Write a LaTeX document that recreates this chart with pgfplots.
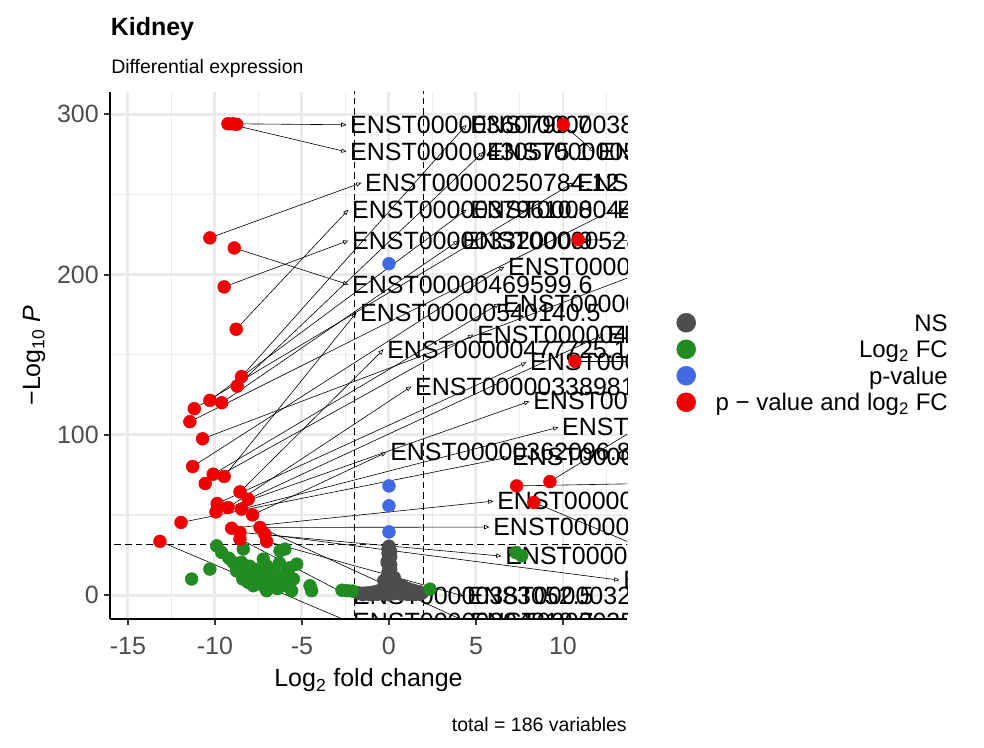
\documentclass[border=0pt]{standalone}
\usepackage{fontspec}
\setmainfont{Liberation Sans}
\usepackage{pgfplots}
\pgfplotsset{compat=1.18}
\usetikzlibrary{arrows.meta}
\definecolor{ns}{HTML}{4D4D4D}
\definecolor{fc}{HTML}{228B22}
\definecolor{pv}{HTML}{4169E1}
\definecolor{fcp}{HTML}{EE0000}
\definecolor{gridc}{HTML}{EBEBEB}
\definecolor{tickc}{HTML}{333333}
\definecolor{ticklab}{HTML}{4D4D4D}
\newcommand{\lab}[5]{\draw[-{Triangle[open,length=4pt,width=3.2pt]}, line width=0.45pt] (axis cs:#1,#2) -- (axis cs:{#3-0.2},#4); \node[anchor=west, inner sep=0pt, font=\fontsize{18.75}{19}\selectfont] at (axis cs:#3,#4) {#5};}
\begin{document}
\begin{tikzpicture}
\path[use as bounding box] (0,0) rectangle (738pt,561pt);
\begin{axis}[
 at={(82.5pt,96.75pt)}, anchor=south west,
 scale only axis, width=387.75pt, height=395.25pt,
 xmin=-16.03, xmax=13.68, ymin=-14.95, ymax=313.95,
 axis x line*=bottom, axis y line*=left,
 axis line style={black, line width=1.6pt},
 xtick={-15,-10,-5,0,5,10}, xticklabels={-15,-10,-5,0,5,10},
 ytick={0,100,200,300}, yticklabels={0,100,200,300},
 minor xtick={-12.5,-7.5,-2.5,2.5,7.5,12.5}, minor ytick={50,150,250},
 grid=both, major grid style={gridc, line width=2.2pt}, minor grid style={gridc, line width=1pt},
 tick align=outside, major tick length=4.5pt, minor tick length=0pt,
 tick style={tickc, line width=1.6pt},
 ticklabel style={font=\fontsize{18.75}{20}\selectfont, text=ticklab},
 xticklabel style={anchor=base, yshift=-22.2pt},
 yticklabel style={anchor=east, inner sep=0pt, xshift=-3.75pt},
 clip=true,
 legend style={at={(axis description cs:1.6209,0.4867)}, anchor=east, draw=none, fill=none, inner sep=0pt, row sep=3.075pt, column sep=14.75pt, font=\fontsize{18}{20}\selectfont, nodes={inner sep=0pt, text height=14.8pt, text depth=2pt}},
 legend cell align=right,
]
\addlegendimage{ns, legend image code/.code={\fill (0pt,0pt) circle (7.1pt);}}
\addlegendentry{NS}
\addlegendimage{fc, legend image code/.code={\fill (0pt,0pt) circle (7.1pt);}}
\addlegendentry{Log\textsubscript{2} FC}
\addlegendimage{pv, legend image code/.code={\fill (0pt,0pt) circle (7.1pt);}}
\addlegendentry{p-value}
\addlegendimage{fcp, legend image code/.code={\fill (0pt,0pt) circle (7.1pt);}}
\addlegendentry{p − value and log\textsubscript{2} FC}
% NS
\addplot[forget plot, only marks, mark=*, mark size=4.8pt, color=ns] coordinates {
(0,30.5) (0.05,28) (-0.05,26) (0.1,24) (0,22) (-0.1,20) (0.05,18) (0.1,16) (-0.05,14.5) (0,13)
(0.15,12) (-0.1,11) (0.05,10) (0.2,9) (-0.15,8.5) (0,8) (0.1,7) (-0.05,6.5) (0.25,6) (-0.2,5.5)
(0.05,5) (0.3,4.5) (-0.3,4.2) (0.1,4) (0.4,3.5) (-0.4,3.3) (0,3) (0.6,2.8) (-0.6,2.6) (0.2,2.4)
(0.8,2.2) (-0.8,2) (1,1.8) (-1,1.6) (1.2,1.5) (-1.2,1.3) (1.4,1.2) (-1.4,1) (1.6,0.9) (-1.6,0.8)
(1.8,0.7) (0.5,1.5) (-0.5,1.2) (0.3,0.8) (-0.3,0.6) (0.7,0.5) (-0.7,0.4) (1.1,0.3) (-1.1,0.2) (0,0.2)
(0.5,7) (0.8,5.5) (1.1,4) (1.4,3) (1.7,2.2) (-0.3,9) (0.3,11) (0,15.5) (0.1,19) (-0.1,21)
(0.05,23) (0,25) (0.1,27) (-0.05,29) (1.9,1.2) (-1.8,1.4) (1.5,0.3) (-1.5,0.2) (0.9,0.9) (-0.9,0.8)
};
% Log2 FC
\addplot[forget plot, only marks, mark=*, mark size=4.8pt, color=fc] coordinates {
(-9.9,30.7) (-9.61,26.6) (-8.37,28.7) (-10.29,16.2) (-11.34,10.0) (-8.95,20.4) (-8.47,20.4) (-8.76,15.1) (-8.18,14.1) (-7.22,22.4)
(-7.03,18.3) (-6.26,27.6) (-5.98,28.7) (-5.30,19.3) (-5.88,14.1) (-5.49,10.0) (-8.09,7.9) (-7.41,12.0) (-7.03,10.0) (-6.65,7.9)
(-7.03,2.7) (-7.80,5.8) (-6.07,5.8) (-5.59,2.7) (-4.54,5.8) (-4.44,2.7) (-2.7,3.0) (-2.4,2.7) (-2.1,2.5) (-7.22,5.8)
(-6.5,12.5) (-6.0,9) (-7.6,16) (-6.8,15) (7.63,24.5) (7.3,26.5) (2.36,3.7) (-9.2,23) (-8.0,18) (-6.3,20)
(-5.7,17) (-7.8,9) (-6.4,4) (-6.9,7) (-8.4,10)
};
% p-value
\addplot[forget plot, only marks, mark=*, mark size=4.8pt, color=pv] coordinates {
(0,206.8) (0,68.1) (0,55.7) (0,39.4)
};
% p-value and log2 FC
\addplot[forget plot, only marks, mark=*, mark size=4.8pt, color=fcp] coordinates {
(-9.25,294.1) (-8.97,294.1) (-8.75,293.8) (-10.29,222.9) (-8.89,216.6) (-9.47,192.3) (-8.78,165.9)
(-8.47,136.3) (-8.72,130.4) (-10.29,121.5) (-9.61,120.0) (-11.19,116.3) (-11.44,108.2) (-10.71,97.5)
(-11.28,80.2) (-10.10,75.4) (-9.47,74.0) (-10.56,69.6) (-8.56,64.4) (-8.09,59.8) (-9.87,57.1)
(-9.24,54.6) (-9.94,51.9) (-8.47,53.6) (-7.84,50.0) (-11.95,45.3) (-9.04,41.7) (-7.41,42.2)
(-8.56,39.1) (-7.13,38.0) (-8.56,34.9) (-7.03,33.5) (-13.16,33.5)
(10.02,293.5) (10.88,221.8) (10.69,145.8) (7.34,68.1) (9.25,70.8) (8.33,57.8)
};
% cutoffs
\draw[black, line width=0.6pt, dash pattern=on 5pt off 3pt] (axis cs:-2,-20) -- (axis cs:-2,320);
\draw[black, line width=0.6pt, dash pattern=on 5pt off 3pt] (axis cs:2,-20) -- (axis cs:2,320);
\draw[black, line width=0.6pt, dash pattern=on 5pt off 3pt] (axis cs:-17,31.7) -- (axis cs:15,31.7);
% labels
\lab{-8.97}{294.1}{-2.24}{293.5}{ENST00000360799.7}
\lab{-9.25}{294.1}{-2.24}{276.6}{ENST00000430575.1}
\lab{-8.47}{136.3}{4.66}{293.5}{ENST00000381520.7}
\lab{-8.72}{130.4}{5.63}{276.6}{ENST00000503156.1}
\lab{10.02}{293.5}{12.01}{276.6}{ENST00000379412.3}
\lab{-10.29}{222.9}{-1.38}{257.3}{ENST00000250784.12}
\lab{-11.19}{116.3}{10.80}{257.3}{ENST00000614207.2}
\lab{-8.78}{165.9}{-2.13}{240.5}{ENST00000379610.8}
\lab{-10.29}{121.5}{4.66}{240.5}{ENST00000447123.5}
\lab{-11.44}{108.2}{13.10}{240.5}{ENST00000263025.4}
\lab{-9.47}{192.3}{-2.13}{221.2}{ENST00000332000.9}
\lab{-9.61}{120.0}{4.20}{221.2}{ENST00000528140.5}
\lab{-10.71}{97.5}{14.43}{200.0}{ENST00000312345.6}
\lab{10.88}{221.8}{14.43}{221.2}{ENST00000398765.2}
\lab{-11.28}{80.2}{6.84}{205.0}{ENST00000412896.1}
\lab{-8.89}{216.6}{-2.13}{193.8}{ENST00000469599.6}
\lab{-10.10}{75.4}{6.55}{181.9}{ENST00000355219.7}
\lab{-9.47}{74.0}{-1.67}{176.3}{ENST00000540140.5}
\lab{-10.56}{69.6}{5.06}{162.6}{ENST00000451187.6}
\lab{-8.09}{59.8}{12.53}{162.6}{ENST00000544432.1}
\lab{-8.56}{64.4}{-0.11}{153.3}{ENST00000477725.1}
\lab{-9.87}{57.1}{8.10}{145.2}{ENST00000310872.4}
\lab{10.69}{145.8}{14.43}{145.8}{ENST00000266970.9}
\lab{-9.24}{54.6}{1.49}{130.2}{ENST00000338981.1}
\lab{-9.94}{51.9}{8.28}{120.9}{ENST00000602571.5}
\lab{-8.47}{53.6}{9.94}{104.7}{ENST00000295101.3}
\lab{9.25}{70.8}{14.43}{104.0}{ENST00000371085.8}
\lab{-7.84}{50.0}{0.06}{89.1}{ENST00000362096.8}
\lab{-11.95}{45.3}{7.07}{86.0}{ENST00000600453.1}
\lab{7.34}{68.1}{14.43}{69.5}{ENST00000225171.7}
\lab{-9.04}{41.7}{6.21}{58.6}{ENST00000422419.2}
\lab{-7.41}{42.2}{5.98}{42.4}{ENST00000443811.1}
\lab{8.33}{57.8}{14.43}{31.0}{ENST00000367320.6}
\lab{-8.56}{39.1}{6.67}{24.3}{ENST00000316007.4}
\lab{-7.13}{38.0}{13.45}{9.3}{ENST00000261575.6}
\lab{-8.56}{34.9}{-2.07}{-0.6}{ENST00000383052.5}
\lab{-7.03}{33.5}{4.48}{-0.6}{ENST00000325417.9}
\lab{-13.16}{33.5}{-2.07}{-16.8}{ENST00000294818.7}
\lab{-7.41}{42.2}{4.66}{-16.8}{ENST00000357707.3}
\end{axis}
\begin{scope}[shift={(0pt,561pt)}, x=0.75pt, y=-0.75pt]
\node[anchor=base west, inner sep=0pt, font=\bfseries\fontsize{18.75}{20}\selectfont] at (110.5,36) {Kidney};
\node[anchor=base west, inner sep=0pt, font=\fontsize{14.6}{16}\selectfont] at (111,73.5) {Differential expression};
\node[anchor=base east, inner sep=0pt, font=\fontsize{14.6}{16}\selectfont] at (627,731.5) {total = 186 variables};
\node[anchor=base, inner sep=0pt, font=\fontsize{18.75}{20}\selectfont] at (368.5,687) {Log\textsubscript{2} fold change};
\node[anchor=base, rotate=90, inner sep=0pt, font=\fontsize{18.75}{20}\selectfont] at (40,355.5) {−Log\textsubscript{10} \textit{P}};
\end{scope}
\end{tikzpicture}
\end{document}
